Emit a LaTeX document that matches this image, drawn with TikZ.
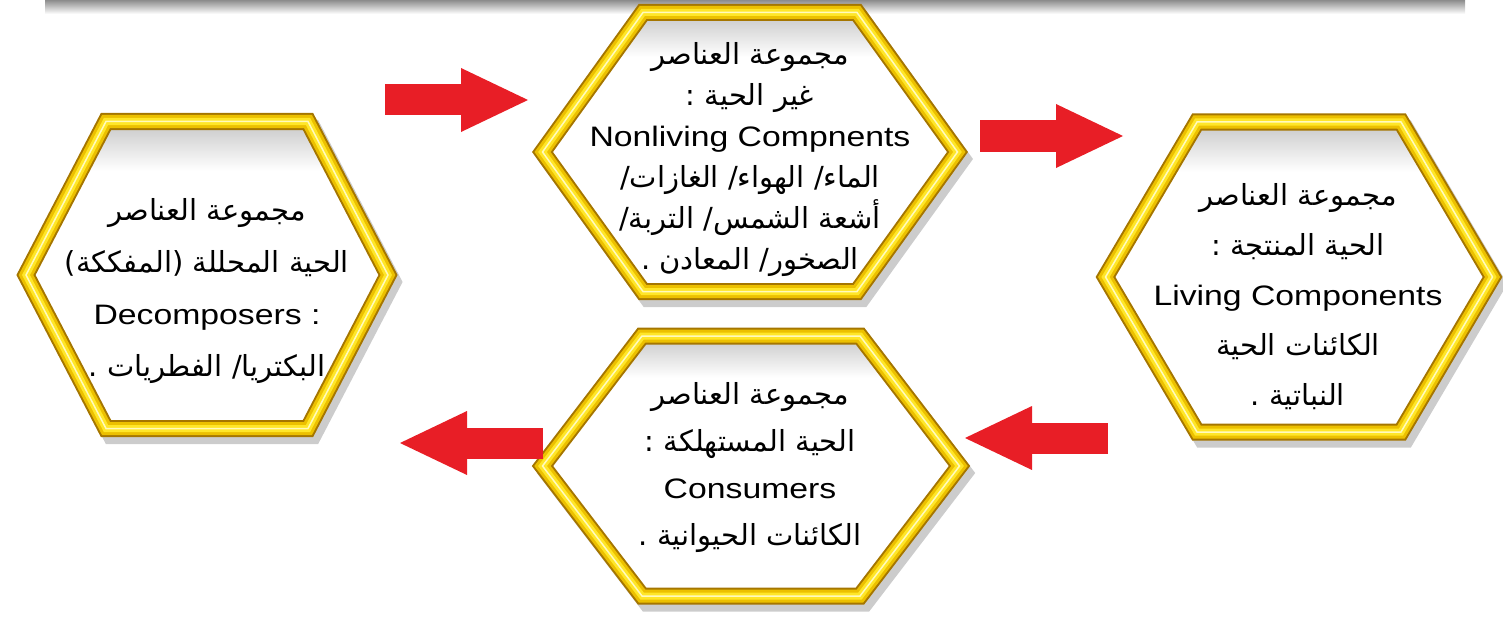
\documentclass[tikz,border=0pt]{standalone}
\usepackage{fontspec}
\usetikzlibrary{arrows.meta}
\TeXXeTstate=1
\newfontfamily\arabicfont[Script=Arabic]{DejaVu Sans}
\newfontfamily\latinfont[FakeStretch=1.2,Scale=0.97]{Liberation Sans}
\newcommand{\artext}[1]{{\arabicfont\beginR #1\endR}}
\newcommand{\entext}[1]{{\latinfont #1}}

\definecolor{arrowred}{RGB}{232,30,38}
\definecolor{golddark}{RGB}{165,118,0}
\definecolor{goldmid}{RGB}{236,192,0}
\definecolor{goldlight}{RGB}{255,230,40}
\definecolor{goldshine}{RGB}{255,250,190}
\pgfdeclareverticalshading{innershade}{100bp}{color(0bp)=(white); color(67bp)=(white); color(75bp)=(black!22); color(100bp)=(black!22)}

\tikzset{
  hexframe/.style={line join=miter,
    preaction={draw=black, opacity=.2, line width=17pt, transform canvas={shift={(5pt,-7pt)}}},
    preaction={shade, shading=innershade},
    postaction={draw=golddark, line width=17pt},
    postaction={draw=goldmid, line width=13pt},
    postaction={draw=goldlight, line width=7pt},
    postaction={draw=goldshine, line width=1.5pt}},
  hextext/.style={align=center, inner sep=0pt, font=\fontsize{29}{#1}\selectfont},
  redarrow/.style={draw=arrowred, line width=31pt, -{Triangle[width=64pt,length=67pt,line width=0pt]}}
}

% centre, half width, top half width, half height
\newcommand{\hexagon}[4]{%
  \path[hexframe] ([shift={(-#2,0)}]#1) -- ([shift={(-#3,-#4)}]#1) -- ([shift={(#3,-#4)}]#1)
    -- ([shift={(#2,0)}]#1) -- ([shift={(#3,#4)}]#1) -- ([shift={(-#3,#4)}]#1) -- cycle;}

\begin{document}
\begin{tikzpicture}[x=1pt,y=-1pt]
	\useasboundingbox (0,0) rectangle (1503,623);
	\shade[top color=black!45, bottom color=white] (45,0) rectangle (1465,14);

	\coordinate (nl) at (750,152);
	\coordinate (lv) at (1299,277);
	\coordinate (dc) at (207,275);
	\coordinate (cs) at (751,466);

	\hexagon{nl}{207.5}{107}{139.5}
	\hexagon{lv}{193.5}{102}{155}
	\hexagon{dc}{181}{101}{153.5}
	\hexagon{cs}{208.5}{109}{130}

	\node[hextext=41] (nonliving) at (750,160) {\artext{مجموعة العناصر}\\ \artext{غير الحية :}\\ \entext{Nonliving Compnents}\\ \artext{الماء/ الهواء/ الغازات/}\\ \artext{أشعة الشمس/ التربة/}\\ \artext{الصخور/ المعادن .}};
	\node[hextext=50] (living) at (1298,297) {\artext{مجموعة العناصر}\\ \artext{الحية المنتجة :}\\ \entext{Living Components}\\ \artext{الكائنات الحية}\\ \artext{النباتية .}};
	\node[hextext=52] (decomposers) at (207,291) {\artext{مجموعة العناصر}\\ \artext{الحية المحللة (المفككة)}\\ \entext{Decomposers :}\\ \artext{البكتريا/ الفطريات .}};
	\node[hextext=47] (consumers) at (750,468) {\artext{مجموعة العناصر}\\ \artext{الحية المستهلكة :}\\ \entext{Consumers}\\ \artext{الكائنات الحيوانية .}};

	\coordinate (a1) at (385,100);  \coordinate (b1) at (528,100);
	\coordinate (a2) at (980,136);  \coordinate (b2) at (1123,136);
	\coordinate (a3) at (1108,438); \coordinate (b3) at (965,438);
	\coordinate (a4) at (543,443);  \coordinate (b4) at (400,443);
	\foreach \i in {1,...,4}
		\draw[redarrow] (a\i) -- (b\i);
\end{tikzpicture}
\end{document}
